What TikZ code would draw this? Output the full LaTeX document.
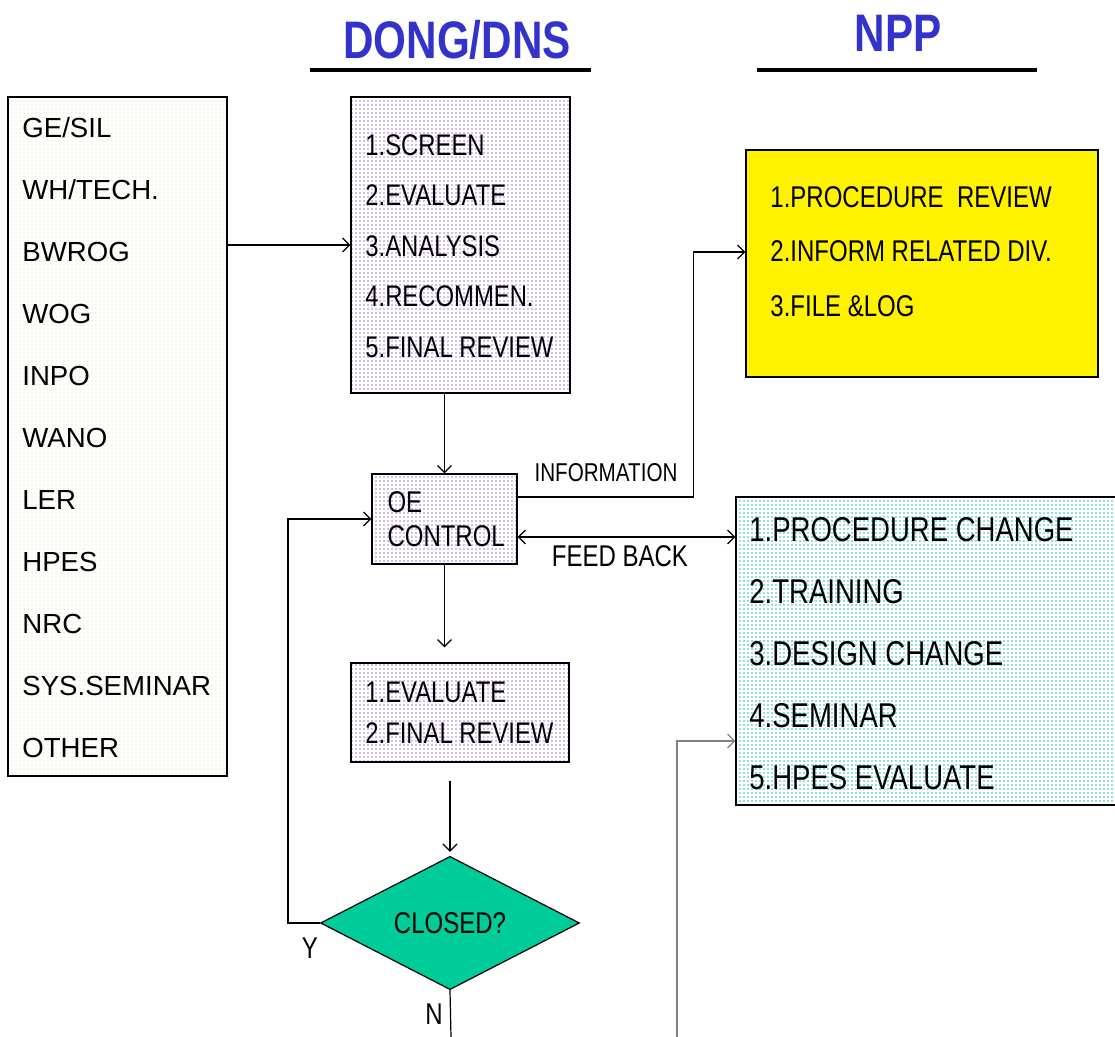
\documentclass[tikz,border=0pt]{standalone}
\usepackage{fontspec}
\setmainfont{Liberation Sans}
\newfontfamily\narrowfont[FakeStretch=0.8]{Liberation Sans}
\usetikzlibrary{shapes.geometric,patterns.meta,arrows.meta}
\definecolor{headblue}{HTML}{3333CC}
\definecolor{lilacdot}{HTML}{A878E8}
\definecolor{cyandot}{HTML}{22C4C4}
\definecolor{creamdot}{HTML}{F0F0D0}
\definecolor{closedgreen}{HTML}{00CC99}

\begin{document}
\begin{tikzpicture}[x=0.5pt,y=-0.5pt]
        \tikzset{box/.style = {draw, semithick, inner sep=0pt}}
        \tikzset{dotbox/.style = {box, preaction={fill=white}, pattern={Dots[distance=2pt,radius=0.45pt]}, pattern color=#1}}
        \tikzset{listtext/.style = {inner sep=0pt, anchor=west, align=left}}
        \tikzset{tag/.style = {inner sep=0pt, font=\narrowfont\fontsize{15}{18}\selectfont}}
        \tikzset{heading/.style = {inner sep=0pt, text=headblue, font=\narrowfont\bfseries\fontsize{26.4}{30}\selectfont}}
        \tikzset{edge/.style = {-{Straight Barb[length=3.5pt,width=7pt]}, semithick}}
        \useasboundingbox (0,0) rectangle (1115,1037);
        % headings
        \node[heading] (dong) at (457,40) {DONG/DNS};
        \node[heading] (npp)  at (898,33) {NPP};
        \draw[line width=2pt] (310,70) -- (591,70);
        \draw[line width=2pt] (757,70) -- (1037,70);
        % boxes
        \node[dotbox=creamdot, minimum width=109.5pt, minimum height=339.5pt] (src) at (117.5,436.5) {};
        \node[dotbox=lilacdot, minimum width=109.5pt, minimum height=148pt] (screen) at (460.5,245) {};
        \node[dotbox=lilacdot, minimum width=72.5pt, minimum height=45pt, align=left, text width=57pt,
              font=\narrowfont\fontsize{15}{17}\selectfont] (oe) at (444.5,519) {OE\\CONTROL};
        \node[dotbox=lilacdot, minimum width=109pt, minimum height=49.5pt] (eval) at (460,712.5) {};
        \node[box, fill=yellow, minimum width=176pt, minimum height=113.5pt] (rev) at (922,263.5) {};
        \node[dotbox=cyandot, minimum width=193pt, minimum height=154pt] (act) at (929,651) {};
        \node[box, diamond, fill=closedgreen, minimum width=129.5pt, minimum height=65.5pt,
              font=\narrowfont\fontsize{15}{18}\selectfont] (closed) at (450,923) {CLOSED?};
        % box texts
        \node[listtext, font=\fontsize{13.8}{31}\selectfont] (srctxt) at (22,438)
              {GE/SIL\\WH/TECH.\\BWROG\\WOG\\INPO\\WANO\\LER\\HPES\\NRC\\SYS.SEMINAR\\OTHER};
        \node[listtext, font=\narrowfont\fontsize{14.9}{25.25}\selectfont] (screentxt) at (365,246)
              {1.SCREEN\\2.EVALUATE\\3.ANALYSIS\\4.RECOMMEN.\\5.FINAL REVIEW};
        \node[listtext, font=\narrowfont\fontsize{14.9}{20.5}\selectfont] (evaltxt) at (365,712.5)
              {1.EVALUATE\\2.FINAL REVIEW};
        \node[listtext, font=\narrowfont\fontsize{15}{27.25}\selectfont] (revtxt) at (770,251.5)
              {1.PROCEDURE\ \ REVIEW\\2.INFORM RELATED DIV.\\3.FILE \&LOG};
        \node[listtext, font=\narrowfont\fontsize{17.2}{31}\selectfont] (acttxt) at (749,654)
              {1.PROCEDURE CHANGE\\2.TRAINING\\3.DESIGN CHANGE\\4.SEMINAR\\5.HPES EVALUATE};
        % labels
        \node[tag, font=\narrowfont\fontsize{12.9}{15}\selectfont] (info) at (606,473) {INFORMATION};
        \node[tag] (fbtxt) at (620,556) {FEED BACK};
        \node[tag] (ylab) at (310,948) {Y};
        \node[tag] (nlab) at (434,1014) {N};
        % connectors
        \coordinate (inf) at ([yshift=11pt]oe.east);
        \coordinate (fb) at ([yshift=-9pt]oe.east);
        \coordinate (nend) at (451,1037);
        \coordinate (npplink) at (677,1037);
        \draw[edge] (src.east |- screen.west) -- (screen.west);
        \draw[edge] (screen.south -| oe.north) -- (oe.north);
        \draw[edge, shorten >=7.5pt] (oe.south) -- (oe.south |- eval.north);
        \draw[edge, shorten <=9pt, shorten >=2pt] (closed.north |- eval.south) -- (closed.north);
        \draw[edge] (closed.west) -- ++(-32,0) |- (oe.west);
        \draw[semithick] (closed.south) -- (nend);
        \draw[edge] (inf) -- ++(176,0) |- ([yshift=5.75pt]rev.west);
        \draw[edge, {Straight Barb[length=3.5pt,width=7pt]}-{Straight Barb[length=3.5pt,width=7pt]}] (fb) -- (fb -| act.west);
        \draw[edge, gray] (npplink) |- ([yshift=-45pt]act.west);
\end{tikzpicture}
\end{document}
